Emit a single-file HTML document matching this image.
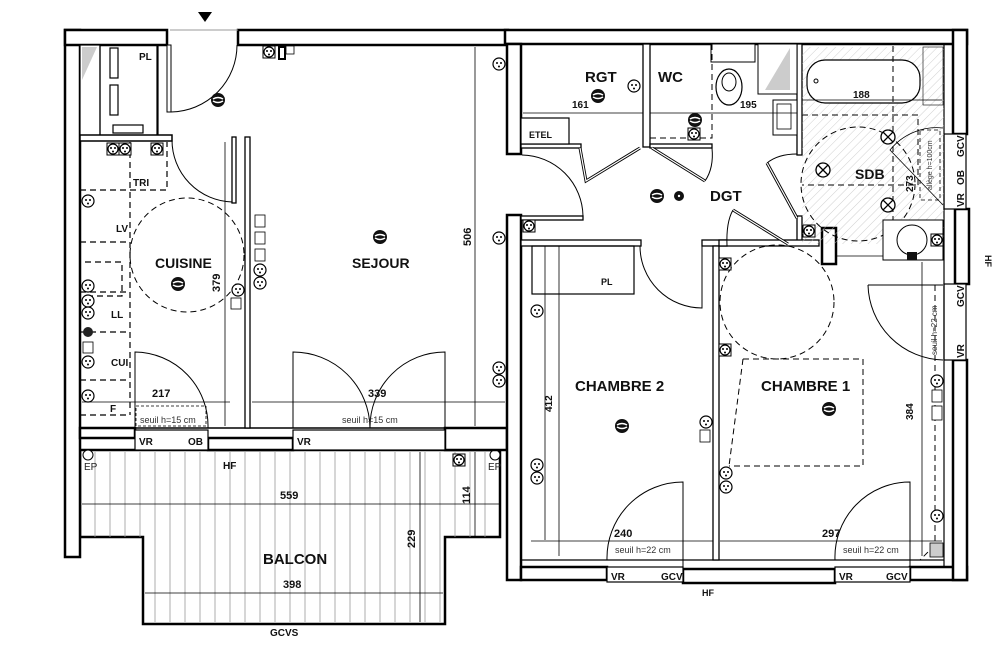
<!DOCTYPE html>
<html><head><meta charset="utf-8"><style>
html,body{margin:0;padding:0;background:#fff;}
svg{display:block;font-family:"Liberation Sans",sans-serif;}
.t{font-weight:bold;fill:#111;}
</style></head><body>
<svg width="1002" height="654" viewBox="0 0 1002 654" xmlns="http://www.w3.org/2000/svg">
<defs>
<pattern id="hatch" width="6" height="6" patternUnits="userSpaceOnUse" patternTransform="rotate(45)"><line x1="0" y1="0" x2="0" y2="6" stroke="#bbb" stroke-width="0.7"/></pattern>
<g id="sk"><rect x="-6" y="-6" width="12" height="12" fill="#fff" stroke="#000" stroke-width="1"/><circle r="5" fill="#fff" stroke="#000" stroke-width="1.2"/><circle cx="-2" cy="-1" r="1" fill="#000"/><circle cx="2" cy="-1" r="1" fill="#000"/><circle cx="0" cy="2.5" r="1" fill="#000"/></g>
<g id="so"><circle r="6" fill="#fff" stroke="#000" stroke-width="1.2"/><circle cx="-2" cy="-1" r="1" fill="#000"/><circle cx="2" cy="-1" r="1" fill="#000"/><circle cx="0" cy="2.5" r="1" fill="#000"/></g>
<g id="lt"><circle r="7" fill="#111"/><path d="M-5 -1 Q0 -4 5 -1 M-5 1 Q0 4 5 1" stroke="#fff" stroke-width="1.5" fill="none"/></g>
<g id="xl"><circle r="7" fill="#fff" stroke="#000" stroke-width="1.3"/><path d="M-5 -5 L5 5 M5 -5 L-5 5" stroke="#000" stroke-width="1.3"/></g>
</defs>

<!-- entrance marker -->
<polygon points="198,12 212,12 205,22" fill="#000"/>

<!-- balcony -->
<path d="M80 450 H500 V537 H445 V624 H143 V537 H80 Z" fill="#fff" stroke="#000" stroke-width="2.5"/>
<g stroke="#999" stroke-width="0.8">
<path d="M95 452V537M110 452V537M125 452V537M140 452V537M155 452V622M170 452V622M185 452V622M200 452V622M215 452V622M230 452V622M245 452V622M260 452V622M275 452V622M290 452V622M305 452V622M320 452V622M335 452V622M350 452V622M365 452V622M380 452V622M395 452V622M410 452V622M425 452V622M440 452V622M455 452V537M470 452V537M485 452V537"/>
</g>
<circle cx="88" cy="455" r="5" fill="#fff" stroke="#000"/>
<circle cx="495" cy="455" r="5" fill="#fff" stroke="#000"/>
<text x="84" y="470" font-size="10" fill="#222">EP</text>
<text x="488" y="470" font-size="10" fill="#222">EP</text>
<g stroke="#000" stroke-width="0.8">
<line x1="82" y1="504" x2="500" y2="504"/>
<line x1="145" y1="593" x2="443" y2="593"/>
<line x1="420" y1="452" x2="420" y2="622"/>
<line x1="475" y1="452" x2="475" y2="537"/>
</g>
<text x="280" y="499" class="t" font-size="11">559</text>
<text x="283" y="588" class="t" font-size="11">398</text>
<text class="t" font-size="11" transform="translate(415,548) rotate(-90)">229</text>
<text class="t" font-size="11" transform="translate(470,504) rotate(-90)">114</text>
<text x="263" y="564" class="t" font-size="15">BALCON</text>
<text x="270" y="636" class="t" font-size="10">GCVS</text>
<text x="223" y="469" class="t" font-size="10">HF</text>
<use href="#sk" x="459" y="460"/>

<!-- LEFT BLOCK walls -->
<g fill="#fff" stroke="#000" stroke-width="2.5">
<rect x="65" y="30" width="15" height="527"/>
<rect x="65" y="30" width="102" height="15"/>
<rect x="238" y="30" width="270" height="15"/>
<rect x="80" y="428" width="55" height="10"/>
<rect x="208" y="438" width="85" height="12"/>
<rect x="445" y="428" width="62" height="22"/>
</g>
<g fill="#fff" stroke="#000" stroke-width="1.2">
<rect x="135" y="430" width="73" height="20"/>
<rect x="293" y="430" width="152" height="20"/>
</g>
<text x="139" y="445" class="t" font-size="10">VR</text>
<text x="188" y="445" class="t" font-size="10">OB</text>
<text x="297" y="445" class="t" font-size="10">VR</text>
<line x1="80" y1="428" x2="505" y2="428" stroke="#000" stroke-width="1.5"/>
<line x1="80" y1="438" x2="135" y2="438" stroke="#000" stroke-width="2"/>

<!-- kitchen closet PL -->
<g fill="none" stroke="#000" stroke-width="1.2">
<rect x="80" y="45" width="20" height="92" fill="#fff"/>
<polygon points="82,47 97,47 82,80" fill="#ccc" stroke="none"/>
<rect x="100" y="45" width="57" height="92"/>
<rect x="110" y="48" width="8" height="30"/>
<rect x="110" y="85" width="8" height="30"/>
<rect x="113" y="125" width="30" height="8"/>
<line x1="158" y1="45" x2="158" y2="137"/>
<rect x="80" y="135" width="92" height="6" fill="#fff" stroke-width="1.5"/>
</g>
<text x="139" y="60" class="t" font-size="10">PL</text>

<!-- entry door -->
<line x1="170" y1="30" x2="238" y2="30" stroke="#999" stroke-width="1"/>
<rect x="167" y="45" width="4" height="67" fill="#fff" stroke="#000" stroke-width="1"/>
<path d="M171 112 A67 67 0 0 0 237 45" fill="none" stroke="#000" stroke-width="1"/>

<!-- kitchen/sejour wall -->
<g fill="#fff" stroke="#000" stroke-width="1.3">
<rect x="232" y="137" width="4" height="66"/>
<rect x="245" y="137" width="5" height="291"/>
</g>
<path d="M172 140 A62 62 0 0 0 232 202" fill="none" stroke="#000" stroke-width="1"/>
<!-- kitchen dashed counters -->
<g fill="none" stroke="#000" stroke-width="1.2" stroke-dasharray="6,4">
<path d="M130 142 V415 M80 415 H130 M130 190 H167 V142 M80 190 H130 M80 242 H130 M80 292 H130 M80 332 H130 M80 380 H130"/>
<path d="M85 262 H122 V296 H85"/>
</g>
<circle cx="187" cy="255" r="57" fill="none" stroke="#000" stroke-width="1" stroke-dasharray="6,4"/>
<text x="133" y="186" class="t" font-size="10">TRI</text>
<text x="116" y="232" class="t" font-size="10">LV</text>
<text x="111" y="318" class="t" font-size="10">LL</text>
<text x="111" y="366" class="t" font-size="10">CUI</text>
<text x="110" y="412" class="t" font-size="10">F</text>
<text x="155" y="268" class="t" font-size="14">CUISINE</text>
<text x="352" y="268" class="t" font-size="14">SEJOUR</text>
<!-- kitchen balcony door -->
<path d="M135 428 V352 A74 74 0 0 1 208 428" fill="none" stroke="#000" stroke-width="1"/>
<rect x="136" y="406" width="70" height="20" fill="none" stroke="#000" stroke-width="0.8" stroke-dasharray="3,2"/>
<!-- sejour double doors -->
<path d="M293 428 V352 A77 77 0 0 1 370 428 M445 428 V352 A75 75 0 0 0 370 428" fill="none" stroke="#000" stroke-width="1"/>
<!-- dims -->
<g stroke="#000" stroke-width="0.8">
<line x1="225" y1="142" x2="225" y2="426"/>
<line x1="475" y1="47" x2="475" y2="426"/>
<line x1="82" y1="402" x2="230" y2="402"/>
<line x1="252" y1="402" x2="505" y2="402"/>
</g>
<text class="t" font-size="11" transform="translate(220,292) rotate(-90)">379</text>
<text class="t" font-size="11" transform="translate(471,246) rotate(-90)">506</text>
<text x="152" y="397" class="t" font-size="11">217</text>
<text x="368" y="397" class="t" font-size="11">339</text>
<text x="140" y="423" font-size="9" fill="#333">seuil h=15 cm</text>
<text x="342" y="423" font-size="9" fill="#333">seuil h=15 cm</text>

<!-- left devices -->
<use href="#lt" x="218" y="100"/>
<use href="#lt" x="380" y="237"/>
<use href="#lt" x="178" y="284"/>
<use href="#sk" x="269" y="52"/>
<rect x="279" y="47" width="6" height="12" fill="#fff" stroke="#000" stroke-width="2"/>
<rect x="286" y="46" width="8" height="8" fill="#fff" stroke="#000" stroke-width="0.8"/>
<use href="#sk" x="113" y="149"/><use href="#sk" x="125" y="149"/><use href="#sk" x="157" y="149"/>
<use href="#so" x="88" y="201"/><use href="#so" x="88" y="286"/><use href="#so" x="88" y="301"/><use href="#so" x="88" y="313"/>
<use href="#so" x="88" y="362"/><use href="#so" x="88" y="396"/>
<circle cx="88" cy="332" r="5" fill="#222"/>
<rect x="83" y="342" width="10" height="11" fill="#fff" stroke="#000" stroke-width="0.8"/>
<use href="#so" x="238" y="290"/><rect x="231" y="298" width="10" height="11" fill="#fff" stroke="#000" stroke-width="0.8"/>
<rect x="255" y="215" width="10" height="12" fill="#fff" stroke="#000" stroke-width="0.8"/>
<rect x="255" y="232" width="10" height="12" fill="#fff" stroke="#000" stroke-width="0.8"/>
<rect x="255" y="249" width="10" height="12" fill="#fff" stroke="#000" stroke-width="0.8"/>
<use href="#so" x="260" y="270"/><use href="#so" x="260" y="283"/>
<use href="#so" x="499" y="64"/><use href="#so" x="499" y="238"/><use href="#so" x="499" y="368"/><use href="#so" x="499" y="381"/>

<!-- RIGHT BLOCK walls -->
<g fill="#fff" stroke="#000" stroke-width="2.5">
<rect x="505" y="30" width="462" height="14"/>
<rect x="953" y="30" width="14" height="104"/>
<rect x="507" y="44" width="14" height="110"/>
<rect x="507" y="215" width="14" height="365"/>
<rect x="521" y="567" width="86" height="13"/>
<rect x="910" y="567" width="57" height="13"/>
<rect x="953" y="360" width="14" height="220"/>
<rect x="683" y="569" width="152" height="14"/>
<rect x="955" y="209" width="14" height="75"/>
</g>
<g fill="#fff" stroke="#000" stroke-width="1.2">
<rect x="607" y="567" width="76" height="15"/>
<rect x="835" y="567" width="75" height="15"/>
<rect x="944" y="134" width="22" height="75"/>
<rect x="944" y="284" width="22" height="76"/>
</g>
<text x="611" y="580" class="t" font-size="10">VR</text>
<text x="661" y="580" class="t" font-size="10">GCV</text>
<text x="839" y="580" class="t" font-size="10">VR</text>
<text x="886" y="580" class="t" font-size="10">GCV</text>
<text x="702" y="596" class="t" font-size="9">HF</text>
<text class="t" font-size="10" transform="translate(964,157) rotate(-90)">GCV</text>
<text class="t" font-size="10" transform="translate(964,185) rotate(-90)">OB</text>
<text class="t" font-size="10" transform="translate(964,207) rotate(-90)">VR</text>
<text class="t" font-size="10" transform="translate(964,307) rotate(-90)">GCV</text>
<text class="t" font-size="10" transform="translate(964,358) rotate(-90)">VR</text>
<text class="t" font-size="9" transform="translate(985,255) rotate(90)">HF</text>
<line x1="944" y1="44" x2="944" y2="567" stroke="#000" stroke-width="1.2"/>
<line x1="521" y1="560" x2="944" y2="560" stroke="#000" stroke-width="1.2"/>

<!-- partitions -->
<g fill="#fff" stroke="#000" stroke-width="1.3">
<rect x="643" y="44" width="7" height="103"/>
<rect x="521" y="144" width="60" height="4"/>
<rect x="650" y="144" width="62" height="4"/>
<rect x="797" y="44" width="5" height="111"/>
<rect x="797" y="216" width="5" height="28"/>
<rect x="521" y="240" width="120" height="6"/>
<rect x="702" y="240" width="25" height="6"/>
<rect x="713" y="246" width="6" height="314"/>
<rect x="719" y="240" width="100" height="6"/>
<rect x="521" y="216" width="62" height="4"/>
<rect x="822" y="228" width="14" height="36" stroke-width="2.5"/>
</g>
<rect x="521" y="118" width="48" height="26" fill="#fff" stroke="#000" stroke-width="1.2"/>
<text x="529" y="138" class="t" font-size="9">ETEL</text>
<!-- doors right -->
<g fill="none" stroke="#000" stroke-width="1">
<path d="M522 155 A62 62 0 0 1 583 216"/>
<path d="M580 148 L586 181 L640 148" stroke-width="3"/>
<path d="M580 148 L586 181 L640 148" stroke="#fff" stroke-width="1.2"/>
<path d="M652 148 L705 181" stroke-width="3"/><path d="M652 148 L705 181" stroke="#fff" stroke-width="1.2"/>
<path d="M712 148 Q714 168 705 181"/>
<path d="M767 163 L797 218" stroke-width="3"/><path d="M767 163 L797 218" stroke="#fff" stroke-width="1.2"/>
<path d="M797 154 Q778 154 767 163"/>
<path d="M733 210 L788 244" stroke-width="3"/><path d="M733 210 L788 244" stroke="#fff" stroke-width="1.2"/>
<path d="M727 246 Q726 222 733 210"/>
<path d="M640 246 A62 62 0 0 0 702 308 V246"/>
<path d="M683 567 V482 A76 76 0 0 0 607 560"/>
<path d="M910 567 V482 A75 75 0 0 0 835 560"/>
<path d="M868 285 A77 77 0 0 0 943 360 M868 285 H943"/>
</g>
<!-- WC -->
<rect x="711" y="44" width="44" height="18" fill="#fff" stroke="#000" stroke-width="1"/>
<ellipse cx="729" cy="87" rx="13" ry="18" fill="#fff" stroke="#000" stroke-width="1.2"/>
<ellipse cx="729" cy="82" rx="7" ry="9" fill="none" stroke="#000" stroke-width="1"/>
<rect x="758" y="44" width="39" height="50" fill="#fff" stroke="#000" stroke-width="1"/>
<polygon points="790,48 790,90 765,90" fill="#ccc"/>
<rect x="773" y="100" width="24" height="35" fill="#fff" stroke="#000" stroke-width="1"/>
<rect x="777" y="104" width="14" height="25" fill="#fff" stroke="#000" stroke-width="0.8"/>
<path d="M650 138 H712 V44" fill="none" stroke="#000" stroke-dasharray="6,4"/>
<g stroke="#000" stroke-width="0.8"><line x1="523" y1="113" x2="643" y2="113"/><line x1="650" y1="113" x2="797" y2="113"/></g>
<text x="572" y="108" class="t" font-size="10">161</text>
<text x="740" y="108" class="t" font-size="10">195</text>
<text x="585" y="82" class="t" font-size="15">RGT</text>
<text x="658" y="82" class="t" font-size="15">WC</text>
<text x="710" y="201" class="t" font-size="15">DGT</text>

<!-- SDB -->
<rect x="802" y="47" width="142" height="197" fill="url(#hatch)"/>
<rect x="807" y="60" width="113" height="43" rx="18" fill="#fff" stroke="#000" stroke-width="1.2"/>
<circle cx="816" cy="81" r="2" fill="none" stroke="#000"/>
<line x1="802" y1="100" x2="942" y2="100" stroke="#000" stroke-width="0.8"/>
<text x="853" y="98" class="t" font-size="10">188</text>
<rect x="923" y="47" width="20" height="58" fill="none" stroke="#000" stroke-width="0.6"/>
<path d="M802 115 H918 V185 H802 M893 46 V250" fill="none" stroke="#000" stroke-dasharray="6,4" stroke-width="1"/>
<circle cx="858" cy="184" r="57" fill="none" stroke="#000" stroke-dasharray="6,4"/>
<rect x="920" y="130" width="20" height="70" fill="none" stroke="#000" stroke-dasharray="4,3" stroke-width="0.8"/>
<path d="M943 128 A60 60 0 0 0 890 150 L943 205" fill="none" stroke="#000" stroke-width="0.8"/>
<text x="855" y="179" class="t" font-size="14">SDB</text>
<text class="t" font-size="10" transform="translate(913,192) rotate(-90)">273</text>
<text font-size="7" fill="#333" transform="translate(932,190) rotate(-90)">allège h=100cm</text>
<rect x="883" y="220" width="60" height="40" fill="#fff" stroke="#000" stroke-width="1"/>
<circle cx="912" cy="240" r="15" fill="#fff" stroke="#000" stroke-width="1"/>
<rect x="907" y="252" width="10" height="8" fill="#111"/>
<line x1="836" y1="256" x2="883" y2="256" stroke="#000" stroke-width="0.8"/>
<use href="#xl" x="888" y="137"/><use href="#xl" x="823" y="170"/><use href="#xl" x="888" y="205"/>
<use href="#sk" x="937" y="240"/><use href="#sk" x="809" y="231"/>

<!-- chambres -->
<rect x="532" y="246" width="102" height="48" fill="none" stroke="#000" stroke-width="1.2"/>
<line x1="545" y1="246" x2="545" y2="540" stroke="#000" stroke-width="0.8"/>
<text x="601" y="285" class="t" font-size="9">PL</text>
<circle cx="777" cy="302" r="57" fill="none" stroke="#000" stroke-dasharray="6,4"/>
<path d="M743 359 H863 V466 H729 M743 359 L729 466" fill="none" stroke="#000" stroke-dasharray="6,4"/>
<path d="M935 285 V545 L920 560" fill="none" stroke="#000" stroke-dasharray="6,4"/>
<g stroke="#000" stroke-width="0.8">
<line x1="559" y1="246" x2="559" y2="556"/>
<line x1="922" y1="262" x2="922" y2="556"/>
<line x1="531" y1="541" x2="713" y2="541"/>
<line x1="720" y1="541" x2="942" y2="541"/>
</g>
<text class="t" font-size="10" transform="translate(552,412) rotate(-90)">412</text>
<text class="t" font-size="10" transform="translate(913,420) rotate(-90)">384</text>
<text x="614" y="537" class="t" font-size="11">240</text>
<text x="822" y="537" class="t" font-size="11">297</text>
<text x="615" y="553" font-size="9" fill="#333">seuil h=22 cm</text>
<text x="843" y="553" font-size="9" fill="#333">seuil h=22 cm</text>
<text font-size="8" fill="#333" transform="translate(937,355) rotate(-90)">seuil h=22 cm</text>
<text x="575" y="391" class="t" font-size="15">CHAMBRE 2</text>
<text x="761" y="391" class="t" font-size="15">CHAMBRE 1</text>
<use href="#lt" x="598" y="96"/><use href="#lt" x="695" y="120"/><use href="#lt" x="657" y="196"/>
<circle cx="679" cy="196" r="5" fill="#111"/><circle cx="679" cy="196" r="1.2" fill="#fff"/>
<use href="#lt" x="622" y="426"/><use href="#lt" x="829" y="409"/>
<use href="#so" x="634" y="86"/><use href="#sk" x="694" y="134"/><use href="#sk" x="529" y="226"/>
<use href="#sk" x="725" y="264"/><use href="#sk" x="725" y="350"/>
<use href="#so" x="537" y="311"/><use href="#so" x="537" y="465"/><use href="#so" x="537" y="478"/>
<use href="#so" x="706" y="422"/><rect x="700" y="430" width="10" height="12" fill="#fff" stroke="#000" stroke-width="0.8"/>
<use href="#so" x="726" y="473"/><use href="#so" x="726" y="487"/>
<use href="#so" x="937" y="381"/><rect x="932" y="390" width="10" height="12" fill="#fff" stroke="#000" stroke-width="0.8"/>
<rect x="932" y="406" width="10" height="14" fill="#fff" stroke="#000" stroke-width="0.8"/>
<use href="#so" x="937" y="516"/>
<rect x="930" y="543" width="13" height="14" fill="#ccc" stroke="#000" stroke-width="0.8"/>
</svg>
</body></html>
